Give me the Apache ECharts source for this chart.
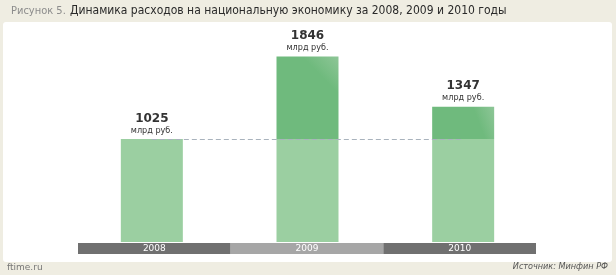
<!DOCTYPE html>
<html><head><meta charset="utf-8">
<script src="https://cdn.jsdelivr.net/npm/echarts@6/dist/echarts.min.js"></script>
<style>html,body{margin:0;padding:0;background:#efede2;}#c{width:616px;height:275px;}</style>
</head><body><div id="c"></div>
<script>
const categories = ['2008', '2009', '2010'];
const totals = [1025, 1846, 1347];
const baseLevel = 1025;
const unitLabel = 'млрд руб.';
const titlePrefix = 'Рисунок 5.';
const titleText = 'Динамика расходов на национальную экономику за 2008, 2009 и 2010 годы';
const sourceText = 'Источник: Минфин РФ';
const siteText = 'ftime.ru';

const baseVals = totals.map(v => Math.min(v, baseLevel));
const topVals = totals.map(v => Math.max(v - baseLevel, 0));

const chart = echarts.init(document.getElementById('c'), null, {renderer: 'canvas'});
chart.setOption({
  animation: false,
  backgroundColor: '#efede2',
  graphic: [
    {type: 'rect', shape: {x: 3, y: 22, width: 609, height: 240, r: 3}, style: {fill: '#ffffff'}, z: -10},
    {type: 'text', left: 11, top: 6, style: {text: titlePrefix, fill: '#8c8c8c', font: '11px "DejaVu Sans Condensed"'}},
    {type: 'text', left: 70, top: 5, style: {text: titleText, fill: '#2a2a2a', font: '12px "DejaVu Sans Condensed"'}},
    {type: 'text', left: 7, top: 263, style: {text: siteText, fill: '#777777', font: '9px "DejaVu Sans"'}},
    {type: 'text', right: 8, top: 262, style: {text: sourceText, fill: '#555555', font: 'italic 9px "DejaVu Sans Condensed"'}}
  ],
  grid: [
    {left: 74, right: 75, top: 41, height: 201},
    {left: 78, right: 80, top: 243, height: 11}
  ],
  xAxis: [
    {type: 'category', data: categories, gridIndex: 0, axisLine: {show: false}, axisTick: {show: false}, axisLabel: {show: false}},
    {type: 'category', data: categories, gridIndex: 1, axisLine: {show: false}, axisTick: {show: false},
     splitArea: {show: true, areaStyle: {color: ['#707070', '#a6a6a6']}},
     axisLabel: {inside: true, margin: 5.5, verticalAlign: 'middle', color: '#ffffff', fontSize: 9, fontFamily: 'DejaVu Sans'}}
  ],
  yAxis: [
    {type: 'value', gridIndex: 0, min: 0, max: 2000, show: false, splitLine: {show: false}},
    {type: 'value', gridIndex: 1, show: false, splitLine: {show: false}}
  ],
  series: [
    {type: 'line', data: [], z: 0, silent: true,
     markLine: {symbol: 'none', silent: true, label: {show: false},
       lineStyle: {color: '#a9b3bd', type: [5, 3], width: 1},
       data: [[{coord: [0, baseLevel]}, {coord: [2, baseLevel]}]]}},
    {type: 'bar', stack: 's', data: baseVals, barWidth: 62, z: 2,
     itemStyle: {color: '#9bcfa1'}},
    {type: 'bar', stack: 's', data: topVals, barWidth: 62, z: 2,
     itemStyle: {color: new echarts.graphic.LinearGradient(1, 0, 0.7, 0.22, [
       {offset: 0, color: '#8ec697'}, {offset: 1, color: '#6fba7d'}])},
     label: {show: true, position: 'top', distance: 3,
       formatter: p => '{a|' + totals[p.dataIndex] + '}\n{b|' + unitLabel + '}',
       rich: {
         a: {fontSize: 12, fontWeight: 'bold', color: '#333333', fontFamily: 'DejaVu Sans', lineHeight: 13, align: 'center'},
         b: {fontSize: 9, color: '#333333', fontFamily: 'DejaVu Sans Condensed', lineHeight: 11, align: 'center'}
       }}}
  ]
});
</script></body></html>
